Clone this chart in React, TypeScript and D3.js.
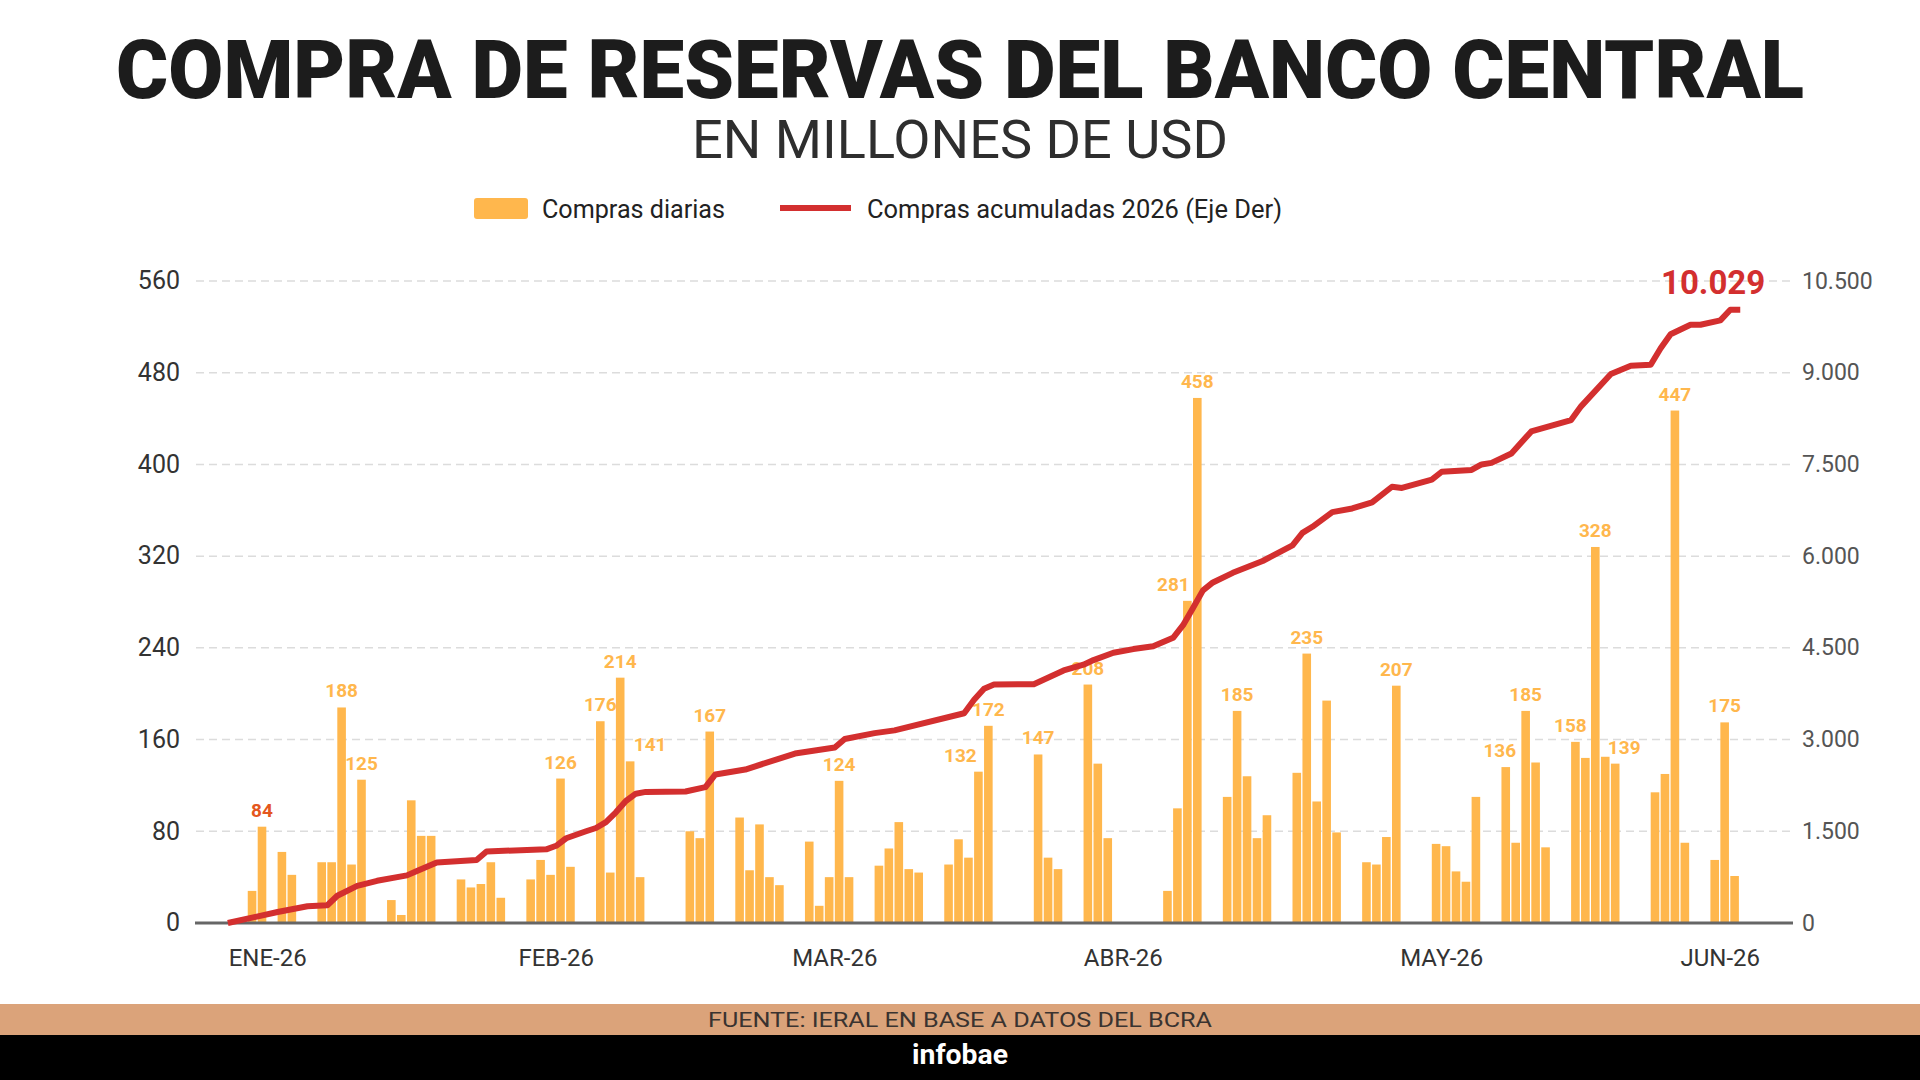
import React from 'react';
import * as d3 from 'd3';

// Compras diarias del BCRA en el mercado de cambios (millones de USD)
const dias = [
  '2026-01-05', '2026-01-06', '2026-01-08', '2026-01-09',
  '2026-01-12', '2026-01-13', '2026-01-14', '2026-01-15', '2026-01-16',
  '2026-01-19', '2026-01-20', '2026-01-21', '2026-01-22', '2026-01-23',
  '2026-01-26', '2026-01-27', '2026-01-28', '2026-01-29', '2026-01-30',
  '2026-02-02', '2026-02-03', '2026-02-04', '2026-02-05', '2026-02-06',
  '2026-02-09', '2026-02-10', '2026-02-11', '2026-02-12', '2026-02-13',
  '2026-02-18', '2026-02-19', '2026-02-20',
  '2026-02-23', '2026-02-24', '2026-02-25', '2026-02-26', '2026-02-27',
  '2026-03-02', '2026-03-03', '2026-03-04', '2026-03-05', '2026-03-06',
  '2026-03-09', '2026-03-10', '2026-03-11', '2026-03-12', '2026-03-13',
  '2026-03-16', '2026-03-17', '2026-03-18', '2026-03-19', '2026-03-20',
  '2026-03-25', '2026-03-26', '2026-03-27',
  '2026-03-30', '2026-03-31', '2026-04-01',
  '2026-04-07', '2026-04-08', '2026-04-09', '2026-04-10',
  '2026-04-13', '2026-04-14', '2026-04-15', '2026-04-16', '2026-04-17',
  '2026-04-20', '2026-04-21', '2026-04-22', '2026-04-23', '2026-04-24',
  '2026-04-27', '2026-04-28', '2026-04-29', '2026-04-30',
  '2026-05-04', '2026-05-05', '2026-05-06', '2026-05-07', '2026-05-08',
  '2026-05-11', '2026-05-12', '2026-05-13', '2026-05-14', '2026-05-15',
  '2026-05-18', '2026-05-19', '2026-05-20', '2026-05-21', '2026-05-22',
  '2026-05-26', '2026-05-27', '2026-05-28', '2026-05-29',
  '2026-06-01', '2026-06-02', '2026-06-03',
];

const compras = [
  28, 84, 62, 42,
  53, 53, 188, 51, 125,
  20, 7, 107, 76, 76,
  38, 31, 34, 53, 22,
  38, 55, 42, 126, 49,
  176, 44, 214, 141, 40,
  80, 74, 167,
  92, 46, 86, 40, 33,
  71, 15, 40, 124, 40,
  50, 65, 88, 47, 44,
  51, 73, 57, 132, 172,
  147, 57, 47,
  208, 139, 74,
  28, 100, 281, 458,
  110, 185, 128, 74, 94,
  131, 235, 106, 194, 79,
  53, 51, 75, 207,
  69, 67, 45, 36, 110,
  136, 70, 185, 140, 66,
  158, 144, 328, 145, 139,
  114, 130, 447, 70,
  55, 175, 41,
];

// días con el monto rotulado encima de la barra
const diasRotulados = [
  '2026-01-06', '2026-01-14', '2026-01-16', '2026-02-05', '2026-02-09',
  '2026-02-11', '2026-02-12', '2026-02-20', '2026-03-05', '2026-03-19',
  '2026-03-20', '2026-03-25', '2026-03-30', '2026-04-09', '2026-04-10',
  '2026-04-14', '2026-04-21', '2026-04-30', '2026-05-11', '2026-05-13',
  '2026-05-18', '2026-05-20', '2026-05-22', '2026-05-28', '2026-06-02',
];
const diaDestacado = '2026-01-06';

// Compras acumuladas 2026 (eje derecho)
const acumFechas = [
  '2026-01-03', '2026-01-08', '2026-01-11', '2026-01-13', '2026-01-14',
  '2026-01-16', '2026-01-18', '2026-01-21', '2026-01-22', '2026-01-24',
  '2026-01-28', '2026-01-29', '2026-02-04', '2026-02-05', '2026-02-06',
  '2026-02-08', '2026-02-09', '2026-02-10', '2026-02-11', '2026-02-12',
  '2026-02-13', '2026-02-14', '2026-02-18', '2026-02-20', '2026-02-21',
  '2026-02-24', '2026-03-01', '2026-03-05', '2026-03-06', '2026-03-09',
  '2026-03-11', '2026-03-18', '2026-03-19', '2026-03-20', '2026-03-21',
  '2026-03-25', '2026-03-28', '2026-03-30', '2026-03-31', '2026-04-02',
  '2026-04-04', '2026-04-06', '2026-04-08', '2026-04-09', '2026-04-10',
  '2026-04-11', '2026-04-12', '2026-04-14', '2026-04-17', '2026-04-20',
  '2026-04-21', '2026-04-22', '2026-04-24', '2026-04-26', '2026-04-28',
  '2026-04-30', '2026-05-01', '2026-05-04', '2026-05-05', '2026-05-08',
  '2026-05-09', '2026-05-10', '2026-05-12', '2026-05-14', '2026-05-18',
  '2026-05-19', '2026-05-22', '2026-05-24', '2026-05-26', '2026-05-27',
  '2026-05-28', '2026-05-30', '2026-05-31', '2026-06-02', '2026-06-03',
  '2026-06-04',
];
const acumValores = [
  0, 180, 273, 290, 445,
  607, 690, 779, 851, 990,
  1030, 1170, 1205, 1263, 1386,
  1500, 1554, 1650, 1810, 1995,
  2115, 2144, 2150, 2222, 2430,
  2510, 2771, 2870, 3010, 3105,
  3150, 3430, 3650, 3830, 3900,
  3905, 4130, 4225, 4300, 4420,
  4480, 4525, 4665, 4870, 5150,
  5440, 5570, 5727, 5920, 6175,
  6380, 6480, 6720, 6780, 6880,
  7135, 7115, 7250, 7380, 7410,
  7500, 7525, 7680, 8040, 8225,
  8450, 8980, 9115, 9130, 9400,
  9630, 9785, 9785, 9856, 10029,
  10029,
];

const ticksIzq = [0, 80, 160, 240, 320, 400, 480, 560];
const ticksDer = [0, 1500, 3000, 4500, 6000, 7500, 9000, 10500];
const ticksMeses = ['2026-01-07', '2026-02-05', '2026-03-05', '2026-04-03', '2026-05-05', '2026-06-02'];
const nombresMeses = ['ENE', 'FEB', 'MAR', 'ABR', 'MAY', 'JUN', 'JUL', 'AGO', 'SEP', 'OCT', 'NOV', 'DIC'];

const FONT = "Roboto, 'Noto Sans', sans-serif";
const AMARILLO = '#ffb74d';
const ROJO = '#d32f2f';

const parse = d3.utcParse('%Y-%m-%d');
const es = d3.formatLocale({ decimal: ',', thousands: '.', grouping: [3], currency: ['$', ''] });
const miles = es.format(',');

// corrimientos de rótulos que se pisan con el vecino
const ajusteRotulo: Record<string, number> = {
  '2026-02-12': 20,
  '2026-03-19': -18,
  '2026-04-09': -14,
  '2026-05-11': -6,
  '2026-05-18': -5,
  '2026-05-22': 9,
};

const App: React.FC = () => {
  const width = 1920;
  const height = 1080;
  const plot = { left: 196, right: 1791, top: 281, bottom: 923 };

  const x = d3.scaleUtc()
    .domain([parse('2025-12-31')!, parse('2026-06-09')!])
    .range([198, 1790]);
  const yIzq = d3.scaleLinear().domain([0, 560]).range([plot.bottom, plot.top]);
  const yDer = d3.scaleLinear().domain([0, 10500]).range([plot.bottom, plot.top]);

  const barW = 8.6;

  const barras = dias.map((d, i) => ({ key: d, fecha: parse(d)!, valor: compras[i] }));

  const puntos: [Date, number][] = acumFechas.map((d, i) => [parse(d)!, acumValores[i]]);
  const linea = d3.line<[Date, number]>()
    .x(d => x(d[0]))
    .y(d => yDer(d[1]));
  const ultimo = puntos[puntos.length - 1];

  const etiquetaMes = (d: Date) =>
    `${nombresMeses[d.getUTCMonth()]}-${String(d.getUTCFullYear()).slice(2)}`;

  return (
    <div style={{ position: 'absolute', left: 0, top: 0 }}>
      <svg width={width} height={height} style={{ display: 'block', background: '#fff' }}>
        {/* Título */}
        <text x={960} y={98} textAnchor="middle" fontFamily={FONT} fontWeight={900}
          fontSize={82} fill="#1c1c1c" textLength={1688} lengthAdjust="spacingAndGlyphs">
          COMPRA DE RESERVAS DEL BANCO CENTRAL
        </text>
        <text x={960} y={158} textAnchor="middle" fontFamily={FONT} fontWeight={400}
          fontSize={54} fill="#2e2e2e" textLength={536} lengthAdjust="spacingAndGlyphs">
          EN MILLONES DE USD
        </text>

        {/* Leyenda */}
        <rect x={474} y={198} width={54} height={21} rx={3} fill={AMARILLO} />
        <text x={542} y={218} fontFamily={FONT} fontSize={25} fill="#222"
          textLength={183} lengthAdjust="spacingAndGlyphs">Compras diarias</text>
        <line x1={780} x2={851} y1={208} y2={208} stroke={ROJO} strokeWidth={6} />
        <text x={867} y={218} fontFamily={FONT} fontSize={25} fill="#222"
          textLength={415} lengthAdjust="spacingAndGlyphs">
          Compras acumuladas 2026 (Eje Der)
        </text>

        {/* Grilla */}
        {ticksIzq.filter(t => t > 0).map(t => (
          <line key={t} x1={plot.left} x2={plot.right} y1={yIzq(t)} y2={yIzq(t)}
            stroke="#dcdcdc" strokeWidth={1.5} strokeDasharray="8,5" />
        ))}

        {/* Eje izquierdo */}
        {ticksIzq.map(t => (
          <text key={t} x={180} y={yIzq(t)} dy="0.33em" textAnchor="end"
            fontFamily={FONT} fontSize={25} fill="#333">{t}</text>
        ))}

        {/* Eje derecho */}
        {ticksDer.map(t => (
          <text key={t} x={1802} y={yDer(t)} dy="0.33em" textAnchor="start"
            fontFamily={FONT} fontSize={23} fill="#555">{miles(t)}</text>
        ))}

        {/* Barras */}
        {barras.map(b => (
          <rect key={b.key} x={x(b.fecha)} y={yIzq(b.valor)} width={barW}
            height={yIzq(0) - yIzq(b.valor)} fill={AMARILLO} />
        ))}

        {/* Rótulos de barras */}
        {barras.filter(b => diasRotulados.includes(b.key)).map(b => (
          <text key={b.key} x={x(b.fecha) + barW / 2 + (ajusteRotulo[b.key] || 0)}
            y={yIzq(b.valor) - 10} textAnchor="middle" fontFamily={FONT} fontWeight={700}
            fontSize={19} fill={b.key === diaDestacado ? '#e4571e' : AMARILLO}>
            {b.valor}
          </text>
        ))}

        {/* Línea base */}
        <line x1={plot.left - 1} x2={plot.right + 2} y1={plot.bottom} y2={plot.bottom}
          stroke="#666" strokeWidth={3} />

        {/* Eje X */}
        {ticksMeses.map(m => {
          const d = parse(m)!;
          return (
            <text key={m} x={x(d)} y={966} textAnchor="middle" fontFamily={FONT}
              fontSize={24} fill="#333">{etiquetaMes(d)}</text>
          );
        })}

        {/* Acumulado */}
        <path d={linea(puntos) || ''} fill="none" stroke={ROJO} strokeWidth={6}
          strokeLinejoin="round" strokeLinecap="butt" />
        <text x={x(ultimo[0]) + 25} y={yDer(ultimo[1]) - 16} textAnchor="end"
          fontFamily={FONT} fontWeight={700} fontSize={33} fill={ROJO}>
          {miles(ultimo[1])}
        </text>

        {/* Pie */}
        <rect x={0} y={1004} width={width} height={31} fill="#dba37a" />
        <text x={960} y={1027} textAnchor="middle" fontFamily={FONT} fontSize={21}
          fill="#3a3330" textLength={504} lengthAdjust="spacingAndGlyphs">
          FUENTE: IERAL EN BASE A DATOS DEL BCRA
        </text>
        <rect x={0} y={1035} width={width} height={45} fill="#000" />
        <text x={960} y={1064} textAnchor="middle" fontFamily={FONT} fontWeight={700}
          fontSize={28} fill="#fff" textLength={96} lengthAdjust="spacingAndGlyphs">
          infobae
        </text>
      </svg>
    </div>
  );
};

export default App;
